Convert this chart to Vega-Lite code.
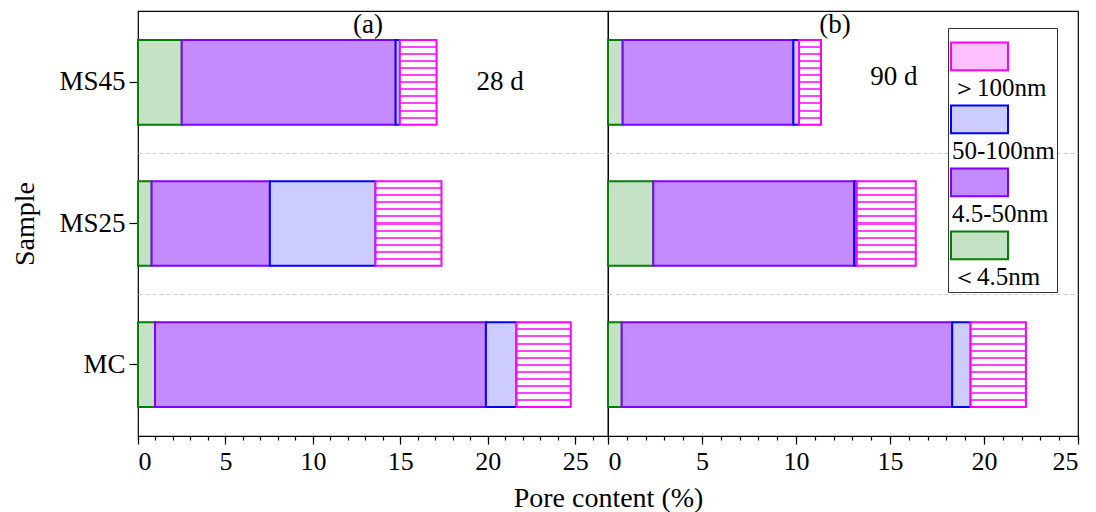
{
  "$schema": "https://vega.github.io/schema/vega-lite/v6.json",
  "padding": {"left": 11, "top": 10, "right": 0, "bottom": 0},
  "background": "white",
  "bounds": "flush",
  "datasets": {
    "pores": [
      {"panel": "a", "sample": "MS45", "size": "＜4.5nm", "k": 1, "value": 2.50},
      {"panel": "a", "sample": "MS45", "size": "4.5-50nm", "k": 2, "value": 12.23},
      {"panel": "a", "sample": "MS45", "size": "50-100nm", "k": 3, "value": 0.24},
      {"panel": "a", "sample": "MS45", "size": "＞100nm", "k": 4, "value": 2.10},
      {"panel": "a", "sample": "MS25", "size": "＜4.5nm", "k": 1, "value": 0.78},
      {"panel": "a", "sample": "MS25", "size": "4.5-50nm", "k": 2, "value": 6.76},
      {"panel": "a", "sample": "MS25", "size": "50-100nm", "k": 3, "value": 6.04},
      {"panel": "a", "sample": "MS25", "size": "＞100nm", "k": 4, "value": 3.77},
      {"panel": "a", "sample": "MC", "size": "＜4.5nm", "k": 1, "value": 0.97},
      {"panel": "a", "sample": "MC", "size": "4.5-50nm", "k": 2, "value": 18.92},
      {"panel": "a", "sample": "MC", "size": "50-100nm", "k": 3, "value": 1.75},
      {"panel": "a", "sample": "MC", "size": "＞100nm", "k": 4, "value": 3.10},
      {"panel": "b", "sample": "MS45", "size": "＜4.5nm", "k": 1, "value": 0.78},
      {"panel": "b", "sample": "MS45", "size": "4.5-50nm", "k": 2, "value": 9.08},
      {"panel": "b", "sample": "MS45", "size": "50-100nm", "k": 3, "value": 0.30},
      {"panel": "b", "sample": "MS45", "size": "＞100nm", "k": 4, "value": 1.17},
      {"panel": "b", "sample": "MS25", "size": "＜4.5nm", "k": 1, "value": 2.41},
      {"panel": "b", "sample": "MS25", "size": "4.5-50nm", "k": 2, "value": 10.69},
      {"panel": "b", "sample": "MS25", "size": "50-100nm", "k": 3, "value": 0.13},
      {"panel": "b", "sample": "MS25", "size": "＞100nm", "k": 4, "value": 3.14},
      {"panel": "b", "sample": "MC", "size": "＜4.5nm", "k": 1, "value": 0.73},
      {"panel": "b", "sample": "MC", "size": "4.5-50nm", "k": 2, "value": 17.58},
      {"panel": "b", "sample": "MC", "size": "50-100nm", "k": 3, "value": 0.98},
      {"panel": "b", "sample": "MC", "size": "＞100nm", "k": 4, "value": 2.94}
    ],
    "notes": [
      {"panel": "a", "sample": "MS45", "x": 20.7, "label": "28 d"},
      {"panel": "b", "sample": "MS45", "x": 15.2, "label": "90 d"}
    ]
  },
  "hconcat": [
    {
      "width": 470,
      "height": 425,
      "title": {"text": "(a)", "offset": -28, "fontSize": 27, "fontWeight": "normal", "font": "Liberation Serif", "color": "black", "dx": -5},
      "resolve": {"axis": {"y": "independent", "x": "independent"}},
      "layer": [
        {
          "data": {"name": "pores"},
          "transform": [{"filter": "datum.panel === 'a'"}],
          "mark": {"type": "bar", "strokeWidth": 2},
          "encoding": {
            "y": {"field": "sample", "type": "nominal", "sort": ["MS45", "MS25", "MC"],
              "scale": {"paddingInner": 0.4, "paddingOuter": 0.205},
              "axis": {"title": "Sample", "orient": "left", "ticks": true, "tickSize": 9, "labelPadding": 4, "titlePadding": 19, "labelFontSize": 27, "domain": false, "grid": false}},
            "x": {"field": "value", "type": "quantitative", "stack": "zero",
              "scale": {"domain": [0, 26.87], "nice": false, "zero": true},
              "axis": {"orient": "bottom", "values": [0, 5, 10, 15, 20, 25], "ticks": true, "tickSize": 8,
                "labelPadding": 4, "title": "Pore content (%)", "titleX": 470, "titlePadding": 10, "grid": false}},
            "order": {"field": "k", "type": "quantitative"},
            "fill": {"field": "size", "type": "nominal",
              "scale": {"domain": ["＞100nm", "50-100nm", "4.5-50nm", "＜4.5nm"], "range": ["#ffc0ff", "#ccccff", "#c48aff", "#c4e2c4"]},
              "legend": null,
              "condition": {"test": "datum.size === '＞100nm'", "value": {"gradient": "linear", "x1": 0, "y1": 0, "x2": 0, "y2": 1, "stops": [
                {"offset": 0, "color": "white"},
                {"offset": 0.0713, "color": "white"}, {"offset": 0.0713, "color": "#ff40ff"}, {"offset": 0.0953, "color": "#ff40ff"}, {"offset": 0.0953, "color": "white"},
                {"offset": 0.1547, "color": "white"}, {"offset": 0.1547, "color": "#ff40ff"}, {"offset": 0.1787, "color": "#ff40ff"}, {"offset": 0.1787, "color": "white"},
                {"offset": 0.238, "color": "white"}, {"offset": 0.238, "color": "#ff40ff"}, {"offset": 0.262, "color": "#ff40ff"}, {"offset": 0.262, "color": "white"},
                {"offset": 0.3213, "color": "white"}, {"offset": 0.3213, "color": "#ff40ff"}, {"offset": 0.3453, "color": "#ff40ff"}, {"offset": 0.3453, "color": "white"},
                {"offset": 0.4047, "color": "white"}, {"offset": 0.4047, "color": "#ff40ff"}, {"offset": 0.4287, "color": "#ff40ff"}, {"offset": 0.4287, "color": "white"},
                {"offset": 0.488, "color": "white"}, {"offset": 0.488, "color": "#ff40ff"}, {"offset": 0.512, "color": "#ff40ff"}, {"offset": 0.512, "color": "white"},
                {"offset": 0.5713, "color": "white"}, {"offset": 0.5713, "color": "#ff40ff"}, {"offset": 0.5953, "color": "#ff40ff"}, {"offset": 0.5953, "color": "white"},
                {"offset": 0.6547, "color": "white"}, {"offset": 0.6547, "color": "#ff40ff"}, {"offset": 0.6787, "color": "#ff40ff"}, {"offset": 0.6787, "color": "white"},
                {"offset": 0.738, "color": "white"}, {"offset": 0.738, "color": "#ff40ff"}, {"offset": 0.762, "color": "#ff40ff"}, {"offset": 0.762, "color": "white"},
                {"offset": 0.8213, "color": "white"}, {"offset": 0.8213, "color": "#ff40ff"}, {"offset": 0.8453, "color": "#ff40ff"}, {"offset": 0.8453, "color": "white"},
                {"offset": 0.9047, "color": "white"}, {"offset": 0.9047, "color": "#ff40ff"}, {"offset": 0.9287, "color": "#ff40ff"}, {"offset": 0.9287, "color": "white"},
                {"offset": 1, "color": "white"}]}}
            },
            "stroke": {"field": "size", "type": "nominal",
              "scale": {"domain": ["＞100nm", "50-100nm", "4.5-50nm", "＜4.5nm"], "range": ["#ff00ff", "#0000ff", "#8000ff", "#008000"]},
              "legend": null}
          }
        },
        {
          "data": {"name": "notes"},
          "transform": [{"filter": "datum.panel === 'a'"}],
          "mark": {"type": "text", "fontSize": 27, "font": "Liberation Serif", "color": "black"},
          "encoding": {
            "x": {"field": "x", "type": "quantitative",
              "axis": {"orient": "bottom", "values": [0,1,2,3,4,5,6,7,8,9,10,11,12,13,14,15,16,17,18,19,20,21,22,23,24,25,26], "ticks": true, "tickSize": 4, "labels": false, "domain": false, "title": null, "grid": false}},
            "y": {"field": "sample", "type": "nominal", "sort": ["MS45", "MS25", "MC"],
              "axis": {"orient": "left", "title": null, "labels": false, "ticks": false, "domain": false, "grid": true, "gridDash": [4, 3], "gridColor": "#cccccc", "gridWidth": 1, "bandPosition": -0.326,
                "gridOpacity": {"condition": {"test": "datum.value === 'MS45'", "value": 0}, "value": 1}}},
            "text": {"field": "label"}
          }
        }
      ]
    },
    {
      "width": 470,
      "height": 425,
      "title": {"text": "(b)", "offset": -28, "fontSize": 27, "fontWeight": "normal", "font": "Liberation Serif", "color": "black", "dx": -8},
      "resolve": {"axis": {"x": "independent"}},
      "layer": [
        {
          "data": {"name": "pores"},
          "transform": [{"filter": "datum.panel === 'b'"}],
          "mark": {"type": "bar", "strokeWidth": 2},
          "encoding": {
            "y": {"field": "sample", "type": "nominal", "sort": ["MS45", "MS25", "MC"],
              "scale": {"paddingInner": 0.4, "paddingOuter": 0.205},
              "axis": {"orient": "left", "title": null, "labels": false, "ticks": false, "domain": false, "grid": true, "gridDash": [4, 3], "gridColor": "#cccccc", "gridWidth": 1, "bandPosition": -0.326,
                "gridOpacity": {"condition": {"test": "datum.value === 'MS45'", "value": 0}, "value": 1}}},
            "x": {"field": "value", "type": "quantitative", "stack": "zero",
              "scale": {"domain": [0, 25], "nice": false, "zero": true},
              "axis": {"orient": "bottom", "values": [0, 5, 10, 15, 20, 25], "ticks": true, "tickSize": 8,
                "labelPadding": 4, "title": null, "grid": false}},
            "order": {"field": "k", "type": "quantitative"},
            "fill": {"field": "size", "type": "nominal",
              "scale": {"domain": ["＞100nm", "50-100nm", "4.5-50nm", "＜4.5nm"], "range": ["#ffc0ff", "#ccccff", "#c48aff", "#c4e2c4"]},
              "legend": {"orient": "none", "legendX": 340, "legendY": 17, "title": " ", "titleFontSize": 10, "titlePadding": 6, "symbolType": "M-1,-1.16H1V-0.18H-1Z", "symbolSize": 3249, "symbolStrokeWidth": 2, "labelFont": "Liberation Serif", "labelFontSize": 25, "labelColor": "black", "labelOffset": -57, "labelBaseline": "top", "rowPadding": 0, "padding": 2, "strokeColor": "#333333", "fillColor": "white", "labelLimit": 200},
              "condition": {"test": "datum.size === '＞100nm'", "value": {"gradient": "linear", "x1": 0, "y1": 0, "x2": 0, "y2": 1, "stops": [
                {"offset": 0, "color": "white"},
                {"offset": 0.0713, "color": "white"}, {"offset": 0.0713, "color": "#ff40ff"}, {"offset": 0.0953, "color": "#ff40ff"}, {"offset": 0.0953, "color": "white"},
                {"offset": 0.1547, "color": "white"}, {"offset": 0.1547, "color": "#ff40ff"}, {"offset": 0.1787, "color": "#ff40ff"}, {"offset": 0.1787, "color": "white"},
                {"offset": 0.238, "color": "white"}, {"offset": 0.238, "color": "#ff40ff"}, {"offset": 0.262, "color": "#ff40ff"}, {"offset": 0.262, "color": "white"},
                {"offset": 0.3213, "color": "white"}, {"offset": 0.3213, "color": "#ff40ff"}, {"offset": 0.3453, "color": "#ff40ff"}, {"offset": 0.3453, "color": "white"},
                {"offset": 0.4047, "color": "white"}, {"offset": 0.4047, "color": "#ff40ff"}, {"offset": 0.4287, "color": "#ff40ff"}, {"offset": 0.4287, "color": "white"},
                {"offset": 0.488, "color": "white"}, {"offset": 0.488, "color": "#ff40ff"}, {"offset": 0.512, "color": "#ff40ff"}, {"offset": 0.512, "color": "white"},
                {"offset": 0.5713, "color": "white"}, {"offset": 0.5713, "color": "#ff40ff"}, {"offset": 0.5953, "color": "#ff40ff"}, {"offset": 0.5953, "color": "white"},
                {"offset": 0.6547, "color": "white"}, {"offset": 0.6547, "color": "#ff40ff"}, {"offset": 0.6787, "color": "#ff40ff"}, {"offset": 0.6787, "color": "white"},
                {"offset": 0.738, "color": "white"}, {"offset": 0.738, "color": "#ff40ff"}, {"offset": 0.762, "color": "#ff40ff"}, {"offset": 0.762, "color": "white"},
                {"offset": 0.8213, "color": "white"}, {"offset": 0.8213, "color": "#ff40ff"}, {"offset": 0.8453, "color": "#ff40ff"}, {"offset": 0.8453, "color": "white"},
                {"offset": 0.9047, "color": "white"}, {"offset": 0.9047, "color": "#ff40ff"}, {"offset": 0.9287, "color": "#ff40ff"}, {"offset": 0.9287, "color": "white"},
                {"offset": 1, "color": "white"}]}}
            },
            "stroke": {"field": "size", "type": "nominal",
              "scale": {"domain": ["＞100nm", "50-100nm", "4.5-50nm", "＜4.5nm"], "range": ["#ff00ff", "#0000ff", "#8000ff", "#008000"]},
              "legend": {"orient": "none", "legendX": 340, "legendY": 17, "title": " ", "titleFontSize": 10, "titlePadding": 6, "symbolType": "M-1,-1.16H1V-0.18H-1Z", "symbolSize": 3249, "symbolStrokeWidth": 2, "labelFont": "Liberation Serif", "labelFontSize": 25, "labelColor": "black", "labelOffset": -57, "labelBaseline": "top", "rowPadding": 0, "padding": 2, "strokeColor": "#333333", "fillColor": "white", "labelLimit": 200}}
          }
        },
        {
          "data": {"name": "notes"},
          "transform": [{"filter": "datum.panel === 'b'"}],
          "mark": {"type": "text", "fontSize": 27, "font": "Liberation Serif", "color": "black", "dy": -5},
          "encoding": {
            "x": {"field": "x", "type": "quantitative",
              "axis": {"orient": "bottom", "values": [0,1,2,3,4,5,6,7,8,9,10,11,12,13,14,15,16,17,18,19,20,21,22,23,24,25], "ticks": true, "tickSize": 4, "labels": false, "domain": false, "title": null, "grid": false}},
            "y": {"field": "sample", "type": "nominal", "sort": ["MS45", "MS25", "MC"]},
            "text": {"field": "label"}
          }
        }
      ]
    }
  ],
  "spacing": 0,
  "resolve": {"scale": {"fill": "independent", "stroke": "independent"}, "legend": {"fill": "independent", "stroke": "independent"}},
  "config": {
    "font": "Liberation Serif",
    "view": {"stroke": "black", "strokeWidth": 1.2},
    "axis": {"domainColor": "black", "tickColor": "black", "labelColor": "black", "titleColor": "black", "labelFont": "Liberation Serif", "titleFont": "Liberation Serif", "titleFontWeight": "normal", "labelFontSize": 26, "titleFontSize": 28, "grid": false, "domainWidth": 1.2, "tickWidth": 1.2}
  }
}
